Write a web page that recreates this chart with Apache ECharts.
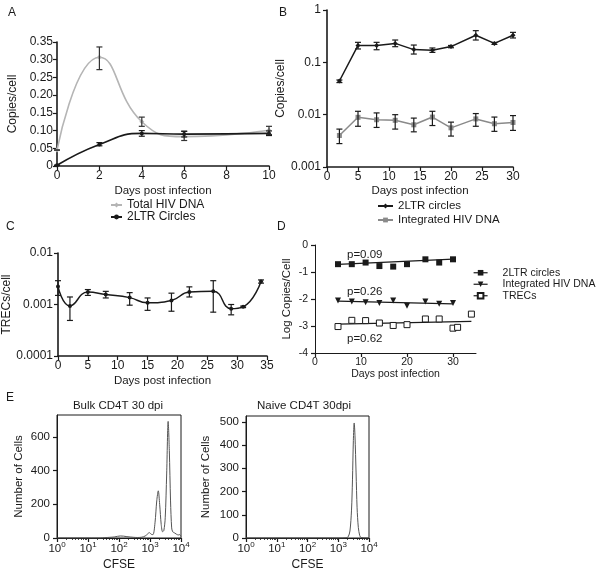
<!DOCTYPE html>
<html><head><meta charset="utf-8">
<script src="https://cdn.jsdelivr.net/npm/echarts@6/dist/echarts.min.js"></script>
<style>html,body{margin:0;padding:0;background:#fff}#c{width:604px;height:573px}</style>
</head><body><div id="c"></div>
<script>
// ---------- Panel A ----------
const daysA = [0, 2, 4, 6, 10];
const totalHivA = [0.045, 0.307, 0.125, 0.083, 0.101];
const totalHivA_lo = [0.045, 0.272, 0.112, 0.072, 0.089];
const totalHivA_hi = [0.045, 0.336, 0.138, 0.098, 0.112];
const ltrA = [0.002, 0.061, 0.092, 0.090, 0.092];
const ltrA_lo = [0.002, 0.057, 0.084, 0.082, 0.086];
const ltrA_hi = [0.002, 0.066, 0.100, 0.098, 0.099];
// ---------- Panel B ----------
const daysB = [2, 5, 8, 11, 14, 17, 20, 24, 27, 30];
const ltrB = [0.044, 0.21, 0.21, 0.23, 0.175, 0.17, 0.20, 0.33, 0.23, 0.33];
const ltrB_lo = [0.041, 0.18, 0.174, 0.199, 0.144, 0.155, 0.19, 0.267, 0.22, 0.292];
const ltrB_hi = [0.046, 0.241, 0.241, 0.267, 0.214, 0.188, 0.21, 0.403, 0.24, 0.374];
const intB = [0.004, 0.0089, 0.008, 0.0078, 0.0064, 0.009, 0.0056, 0.0083, 0.0067, 0.0071];
const intB_lo = [0.0028, 0.006, 0.0057, 0.0053, 0.0047, 0.0062, 0.0039, 0.006, 0.0048, 0.005];
const intB_hi = [0.0053, 0.0116, 0.0108, 0.010, 0.0086, 0.0116, 0.0072, 0.0105, 0.009, 0.0096];
// ---------- Panel C ----------
const daysC = [0, 2, 5, 8, 12, 15, 19, 22, 26, 29, 31, 34];
const trecC = [0.00223, 0.00094, 0.00174, 0.00157, 0.00136, 0.00108, 0.0012, 0.00174, 0.0018, 0.00083, 0.0009, 0.0028];
const trecC_lo = [0.0015, 0.00049, 0.0015, 0.00134, 0.00097, 0.00077, 0.00074, 0.0014, 0.00071, 0.00063, 0.00087, 0.0026];
const trecC_hi = [0.0029, 0.0014, 0.00195, 0.0018, 0.0017, 0.00134, 0.00166, 0.0022, 0.0029, 0.001, 0.00093, 0.003];
// ---------- Panel D ----------
const daysD = [5, 8, 11, 14, 17, 20, 24, 27, 30];
const logLtrD = [-0.71, -0.71, -0.65, -0.78, -0.80, -0.71, -0.53, -0.65, -0.53];
const logIntD = [-2.06, -2.09, -2.12, -2.15, -2.06, -2.25, -2.09, -2.18, -2.15];
const daysTrecD = [5, 8, 11, 14, 17, 20, 24, 27, 30, 31, 34];
const logTrecD = [-3.02, -2.79, -2.80, -2.89, -2.98, -2.95, -2.74, -2.74, -3.08, -3.05, -2.56];
const fitLtrD = [[5, -0.72], [30, -0.52]];
const fitIntD = [[5, -2.08], [30, -2.18]];
const fitTrecD = [[5, -2.93], [34, -2.83]];
const pLabels = ['p=0.09', 'p=0.26', 'p=0.62'];
// ---------- Panel E ----------
const cfseBulk = [1, 25, 35, 50, 70, 90, 110, 140, 180, 230, 300, 400, 550, 700, 850, 950, 1100, 1250, 1450, 1650, 1850, 2050, 2300, 2550, 2800, 3100, 3450, 3850, 4200, 4600, 5000, 5400, 6200, 7200, 8200, 9000, 10000];
const countBulk = [0, 0, 2, 4, 6, 10, 12, 11, 8, 6, 4, 3, 5, 12, 25, 32, 22, 20, 90, 220, 280, 200, 80, 37, 45, 120, 380, 692, 520, 220, 60, 37, 30, 22, 18, 20, 10];
const cfseNaive = [1, 1000, 1800, 2100, 2400, 2700, 2900, 3100, 3300, 3500, 3800, 4100, 4500, 5000, 5500, 10000];
const countNaive = [0, 0, 1, 5, 30, 120, 250, 420, 495, 440, 280, 130, 45, 10, 2, 0];

const FONT = '"Liberation Sans", Arial, sans-serif';
const INK = '#1a1a1a';
const GRAY_A = '#b5b5b5';
const GRAY_B = '#8a8a8a';

const zip2 = (xs, ys) => xs.map((x, i) => [x, ys[i]]);
const zip3 = (xs, a, b) => xs.map((x, i) => [x, a[i], b[i]]);

function axis(o) {
  const fs = o.fs || 12;
  return {
    gridIndex: o.g, type: o.type || 'value', min: o.min, max: o.max,
    interval: o.interval, splitNumber: o.splitNumber, logBase: o.logBase,
    name: o.name, nameLocation: 'middle', nameGap: o.nameGap,
    nameTextStyle: { color: INK, fontSize: o.nfs || fs, fontFamily: FONT },
    splitLine: { show: false },
    axisLine: { show: true, onZero: false, lineStyle: { color: INK, width: o.lw || 1.6 } },
    axisTick: { show: true, length: 4, lineStyle: { color: INK, width: 1.2 } },
    minorTick: o.minorTick,
    axisLabel: Object.assign({ color: INK, fontSize: fs, fontFamily: FONT, margin: o.margin || 4, formatter: o.formatter }, o.labelExtra || {})
  };
}

function errBars(xi, yi, data, color) {
  return {
    type: 'custom', xAxisIndex: xi, yAxisIndex: yi, data: data, silent: true, z: 5,
    encode: { x: 0, y: [1, 2] },
    renderItem: function (params, api) {
      const x = api.value(0);
      const a = api.coord([x, api.value(1)]);
      const b = api.coord([x, api.value(2)]);
      const w = 3;
      const st = { stroke: color, lineWidth: 1.2 };
      return {
        type: 'group', children: [
          { type: 'line', shape: { x1: a[0], y1: a[1], x2: b[0], y2: b[1] }, style: st },
          { type: 'line', shape: { x1: a[0] - w, y1: a[1], x2: a[0] + w, y2: a[1] }, style: st },
          { type: 'line', shape: { x1: b[0] - w, y1: b[1], x2: b[0] + w, y2: b[1] }, style: st }
        ]
      };
    }
  };
}

const logFmt = v => String(+Number(v).toPrecision(2));
const decFmt = v => '{b|10}{s|' + Math.round(Math.log10(v)) + '}';
const supRich = {
  b: { fontSize: 11.5, fontFamily: FONT, color: INK, verticalAlign: 'bottom' },
  s: { fontSize: 8, fontFamily: FONT, color: INK, verticalAlign: 'bottom', padding: [0, 0, 6, 0] }
};
const logMinor = { show: true, splitNumber: 9, length: 2, lineStyle: { color: INK, width: 0.8 } };

const legendText = (fs, lh) => ({ color: INK, fontSize: fs, fontFamily: FONT, lineHeight: lh });

const option = {
  animation: false,
  backgroundColor: '#fff',
  textStyle: { fontFamily: FONT },
  grid: [
    { left: 57, top: 42, width: 212, height: 124, outerBoundsMode: 'none' },
    { left: 327, top: 10, width: 186, height: 157, outerBoundsMode: 'none' },
    { left: 58, top: 253, width: 209, height: 103, outerBoundsMode: 'none' },
    { left: 315, top: 245, width: 161, height: 108, outerBoundsMode: 'none' },
    { left: 57, top: 415, width: 124, height: 123, show: true, borderColor: INK, borderWidth: 1, outerBoundsMode: 'none' },
    { left: 246, top: 416, width: 123, height: 122, show: true, borderColor: INK, borderWidth: 1, outerBoundsMode: 'none' }
  ],
  xAxis: [
    axis({ g: 0, min: 0, max: 10, interval: 2, name: 'Days post infection', nameGap: 19, nfs: 11.5 }),
    axis({ g: 1, min: 0, max: 30, interval: 5, name: 'Days post infection', nameGap: 18, nfs: 11.5 }),
    axis({ g: 2, min: 0, max: 35, interval: 5, name: 'Days post infection', nameGap: 19, nfs: 11.5 }),
    axis({ g: 3, min: 0, max: 35, interval: 10, name: 'Days post infection', nameGap: 16, fs: 10.5, lw: 1, labelExtra: { showMaxLabel: false } }),
    axis({ g: 4, type: 'log', logBase: 10, min: 1, max: 10000, splitNumber: 4, name: 'CFSE', nameGap: 21, lw: 1, formatter: decFmt, margin: 3, minorTick: logMinor, labelExtra: { rich: supRich } }),
    axis({ g: 5, type: 'log', logBase: 10, min: 1, max: 10000, splitNumber: 4, name: 'CFSE', nameGap: 21, lw: 1, formatter: decFmt, margin: 3, minorTick: logMinor, labelExtra: { rich: supRich } })
  ],
  yAxis: [
    axis({ g: 0, min: 0, max: 0.35, interval: 0.05, name: 'Copies/cell', nameGap: 38, formatter: v => (v === 0 ? '0' : v.toFixed(2)) }),
    axis({ g: 1, type: 'log', logBase: 10, min: 0.001, max: 1, splitNumber: 3, name: 'Copies/cell', nameGap: 32, formatter: logFmt, margin: 6 }),
    axis({ g: 2, type: 'log', logBase: 10, min: 0.0001, max: 0.01, splitNumber: 2, name: 'TRECs/cell', nameGap: 43, formatter: logFmt, margin: 5 }),
    axis({ g: 3, min: -4, max: 0, interval: 1, name: 'Log Copies/Cell', nameGap: 22, fs: 10.5, nfs: 11.5, lw: 1, margin: 7 }),
    axis({ g: 4, min: 0, max: 730, interval: 200, name: 'Number of Cells', nameGap: 32, fs: 11.5, lw: 1, margin: 7, labelExtra: { showMaxLabel: false } }),
    axis({ g: 5, min: 0, max: 525, interval: 100, name: 'Number of Cells', nameGap: 34, fs: 11.5, lw: 1, margin: 7, labelExtra: { showMaxLabel: false } })
  ],
  legend: [
    {
      orient: 'vertical', left: 110, top: 199, itemWidth: 11, itemHeight: 6, itemGap: 0, padding: 0,
      data: ['Total HIV DNA', '2LTR Circles'], textStyle: legendText(12, 12), selectedMode: false
    },
    {
      orient: 'vertical', left: 377, top: 199, itemWidth: 15, itemHeight: 6, itemGap: 0, padding: 0,
      data: ['2LTR circles', 'Integrated HIV DNA'], textStyle: legendText(11.5, 14), selectedMode: false
    },
    {
      orient: 'vertical', left: 473, top: 267, itemWidth: 14, itemHeight: 7, itemGap: 0, padding: 0,
      data: ['D|2LTR circles', 'D|Integrated HIV DNA', 'D|TRECs'],
      formatter: n => n.replace('D|', ''),
      lineStyle: { color: INK, width: 1.2, opacity: 1, type: 'solid' },
      textStyle: Object.assign(legendText(10.5, 11.5), { padding: [0, 0, 0, 10] }), selectedMode: false
    }
  ],
  graphic: [
    { type: 'text', x: 8, y: 13, style: { text: 'A', fontSize: 12, fontFamily: FONT, fill: INK, verticalAlign: 'middle' } },
    { type: 'text', x: 279, y: 13, style: { text: 'B', fontSize: 12, fontFamily: FONT, fill: INK, verticalAlign: 'middle' } },
    { type: 'text', x: 6, y: 227, style: { text: 'C', fontSize: 12, fontFamily: FONT, fill: INK, verticalAlign: 'middle' } },
    { type: 'text', x: 277, y: 227, style: { text: 'D', fontSize: 12, fontFamily: FONT, fill: INK, verticalAlign: 'middle' } },
    { type: 'text', x: 6, y: 398, style: { text: 'E', fontSize: 12, fontFamily: FONT, fill: INK, verticalAlign: 'middle' } },
    { type: 'text', x: 118, y: 406, style: { text: 'Bulk CD4T 30 dpi', align: 'center', verticalAlign: 'middle', fontSize: 11.5, fontFamily: FONT, fill: INK } },
    { type: 'text', x: 304, y: 406, style: { text: 'Naive CD4T 30dpi', align: 'center', verticalAlign: 'middle', fontSize: 11.5, fontFamily: FONT, fill: INK } },
    { type: 'text', x: 347, y: 255, style: { text: pLabels[0], verticalAlign: 'middle', fontSize: 11.5, fontFamily: FONT, fill: INK } },
    { type: 'text', x: 347, y: 292, style: { text: pLabels[1], verticalAlign: 'middle', fontSize: 11.5, fontFamily: FONT, fill: INK } },
    { type: 'text', x: 347, y: 339, style: { text: pLabels[2], verticalAlign: 'middle', fontSize: 11.5, fontFamily: FONT, fill: INK } }
  ],
  series: [
    // A
    { type: 'line', name: 'Total HIV DNA', xAxisIndex: 0, yAxisIndex: 0, data: zip2(daysA, totalHivA), smooth: 0.5,
      symbol: 'diamond', symbolSize: 5, lineStyle: { color: GRAY_A, width: 1.6 }, itemStyle: { color: GRAY_A }, z: 3 },
    { type: 'line', name: '2LTR Circles', xAxisIndex: 0, yAxisIndex: 0, data: zip2(daysA, ltrA), smooth: 0.5,
      symbol: 'circle', symbolSize: 4, lineStyle: { color: INK, width: 1.6 }, itemStyle: { color: INK }, z: 4 },
    errBars(0, 0, zip3(daysA, totalHivA_lo, totalHivA_hi), '#333'),
    errBars(0, 0, zip3(daysA, ltrA_lo, ltrA_hi), INK),
    // B
    { type: 'line', name: '2LTR circles', xAxisIndex: 1, yAxisIndex: 1, data: zip2(daysB, ltrB),
      symbol: 'diamond', symbolSize: 5, lineStyle: { color: INK, width: 1.5 }, itemStyle: { color: INK }, z: 4 },
    { type: 'line', name: 'Integrated HIV DNA', xAxisIndex: 1, yAxisIndex: 1, data: zip2(daysB, intB),
      symbol: 'rect', symbolSize: 5, lineStyle: { color: GRAY_B, width: 1.5 }, itemStyle: { color: GRAY_B }, z: 3 },
    errBars(1, 1, zip3(daysB, ltrB_lo, ltrB_hi), INK),
    errBars(1, 1, zip3(daysB, intB_lo, intB_hi), INK),
    // C
    { type: 'line', name: 'TRECs C', xAxisIndex: 2, yAxisIndex: 2, data: zip2(daysC, trecC), smooth: 0.5,
      symbol: 'circle', symbolSize: 4, lineStyle: { color: INK, width: 1.5 }, itemStyle: { color: INK } },
    errBars(2, 2, zip3(daysC, trecC_lo, trecC_hi), INK),
    // D points
    { type: 'line', name: 'D|2LTR circles', xAxisIndex: 3, yAxisIndex: 3, data: zip2(daysD, logLtrD),
      symbol: 'rect', symbolSize: 6, lineStyle: { width: 0, opacity: 0 }, itemStyle: { color: INK } },
    { type: 'line', name: 'D|Integrated HIV DNA', xAxisIndex: 3, yAxisIndex: 3, data: zip2(daysD, logIntD),
      symbol: 'triangle', symbolRotate: 180, symbolSize: 6, lineStyle: { width: 0, opacity: 0 }, itemStyle: { color: INK } },
    { type: 'line', name: 'D|TRECs', xAxisIndex: 3, yAxisIndex: 3, data: zip2(daysTrecD, logTrecD),
      symbol: 'rect', symbolSize: 6, lineStyle: { width: 0, opacity: 0 }, itemStyle: { color: '#fff', borderColor: INK, borderWidth: 1 } },
    // D fits
    { type: 'line', name: 'fit1', xAxisIndex: 3, yAxisIndex: 3, data: fitLtrD, symbol: 'none', lineStyle: { color: INK, width: 1.2 }, z: 1 },
    { type: 'line', name: 'fit2', xAxisIndex: 3, yAxisIndex: 3, data: fitIntD, symbol: 'none', lineStyle: { color: INK, width: 1.2 }, z: 1 },
    { type: 'line', name: 'fit3', xAxisIndex: 3, yAxisIndex: 3, data: fitTrecD, symbol: 'none', lineStyle: { color: INK, width: 1.2 }, z: 1 },
    // E
    { type: 'line', name: 'Bulk', xAxisIndex: 4, yAxisIndex: 4, data: zip2(cfseBulk, countBulk), smooth: 0.3,
      symbol: 'none', lineStyle: { color: '#555', width: 1 } },
    { type: 'line', name: 'Naive', xAxisIndex: 5, yAxisIndex: 5, data: zip2(cfseNaive, countNaive), smooth: 0.3,
      symbol: 'none', lineStyle: { color: '#555', width: 1 } }
  ]
};

const chart = echarts.init(document.getElementById('c'), null, { width: 604, height: 573 });
chart.setOption(option);
</script></body></html>
